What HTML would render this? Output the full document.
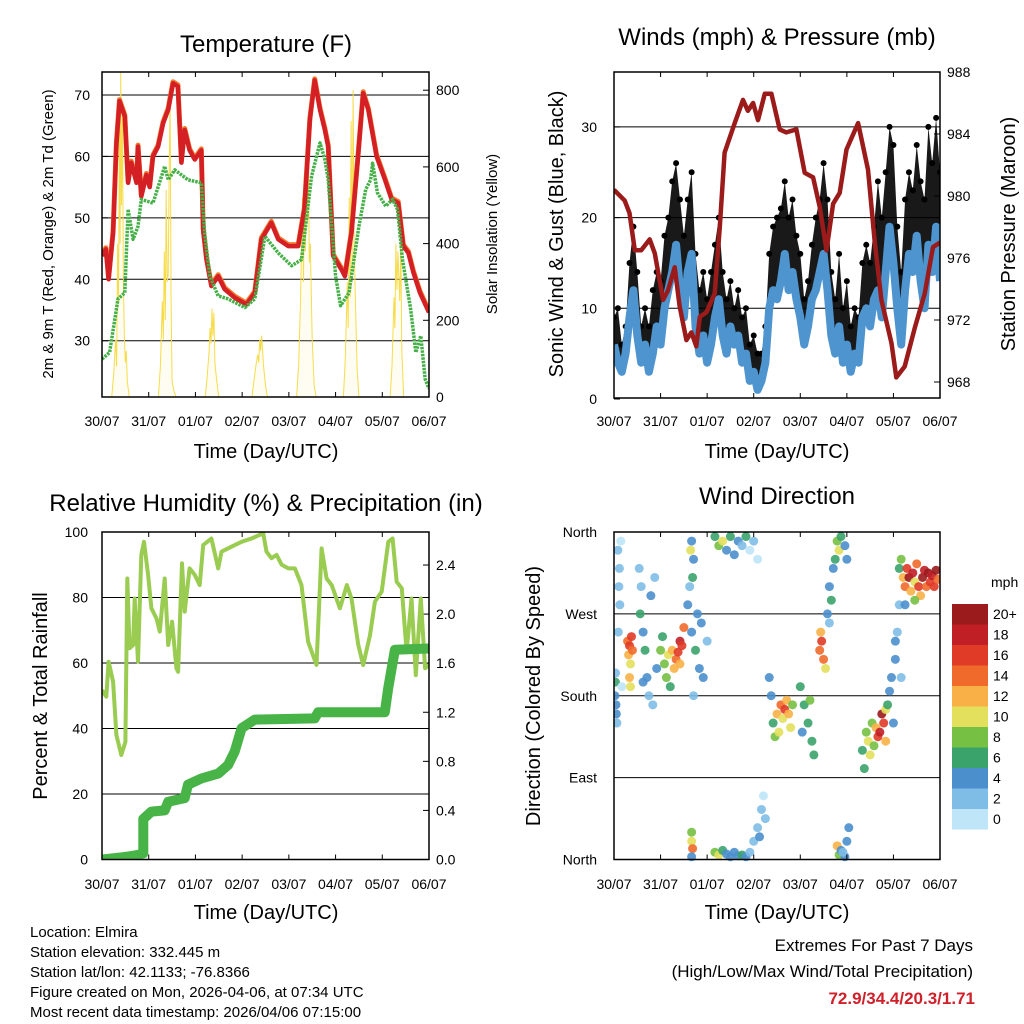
<!DOCTYPE html>
<html><head><meta charset="utf-8">
<style>
html,body{margin:0;padding:0;background:#fff;}
svg{display:block;font-family:"Liberation Sans",sans-serif;}
</style></head>
<body>
<svg id="chart" width="1024" height="1024" viewBox="0 0 1024 1024" xmlns="http://www.w3.org/2000/svg">
<defs>
<clipPath id="c1"><rect x="102" y="72" width="327" height="325"/></clipPath>
<clipPath id="c2"><rect x="614" y="72" width="326" height="326"/></clipPath>
<clipPath id="c3"><rect x="102" y="532" width="327" height="328"/></clipPath>
<clipPath id="c4"><rect x="614" y="528" width="326" height="336"/></clipPath>
</defs>
<g id="root"></g>
<text x="266" y="52" font-size="24" text-anchor="middle">Temperature (F)</text>
<text x="777" y="45" font-size="24" text-anchor="middle">Winds (mph) &amp; Pressure (mb)</text>
<text x="266" y="511" font-size="24" text-anchor="middle">Relative Humidity (%) &amp; Precipitation (in)</text>
<text x="777" y="504" font-size="24" text-anchor="middle">Wind Direction</text>
<text x="266" y="458" font-size="20" text-anchor="middle">Time (Day/UTC)</text>
<text x="777" y="458" font-size="20" text-anchor="middle">Time (Day/UTC)</text>
<text x="266" y="919" font-size="20" text-anchor="middle">Time (Day/UTC)</text>
<text x="777" y="919" font-size="20" text-anchor="middle">Time (Day/UTC)</text>
<text transform="translate(53,234) rotate(-90)" font-size="15" text-anchor="middle">2m &amp; 9m T (Red, Orange) &amp; 2m Td (Green)</text>
<text transform="translate(497,234) rotate(-90)" font-size="15" text-anchor="middle">Solar Insolation (Yellow)</text>
<text transform="translate(563,234) rotate(-90)" font-size="20" text-anchor="middle">Sonic Wind &amp; Gust (Blue, Black)</text>
<text transform="translate(1015,234) rotate(-90)" font-size="20" text-anchor="middle">Station Pressure (Maroon)</text>
<text transform="translate(47,696) rotate(-90)" font-size="20" text-anchor="middle">Percent &amp; Total Rainfall</text>
<text transform="translate(540,696) rotate(-90)" font-size="20" text-anchor="middle">Direction (Colored By Speed)</text>
<g font-size="15">
<text x="30" y="937">Location: Elmira</text>
<text x="30" y="957">Station elevation: 332.445 m</text>
<text x="30" y="977">Station lat/lon: 42.1133; -76.8366</text>
<text x="30" y="997">Figure created on Mon, 2026-04-06, at 07:34 UTC</text>
<text x="30" y="1017">Most recent data timestamp: 2026/04/06 07:15:00</text>
</g>
<g font-size="17" text-anchor="end">
<text x="973" y="951">Extremes For Past 7 Days</text>
<text x="973" y="977">(High/Low/Max Wind/Total Precipitation)</text>
<text x="975" y="1004" fill="#d0202a" font-weight="bold">72.9/34.4/20.3/1.71</text>
</g>
</svg>
<script>
// ---- Data ----
const dayLabels=["30/07","31/07","01/07","02/07","03/07","04/07","05/07","06/07"];
const tempT=[0,2,3.4,5.7,7.4,9,11.7,13.4,15,17.7,18.5,20.2,22.8,24.5,26.2,28.8,31.4,34,36.5,39,40.8,42.5,45,47.7,51,52,53.7,56.2,59.7,63,68.2,74.2,78.5,81.9,87,90.5,95.7,100.8,104,106.8,109.3,112,114.5,116.2,118.8,123,124.8,128.2,131.7,134.2,136.8,141.1,145.4,148.8,152.2,154.8,157.4,160,163.4,168];
const tempV=[43.8,44.9,40,47.6,62,69,66.5,55.7,59,55.7,61.6,53.5,57,55,60,61.6,65.4,67.6,71.9,71.4,59,64.3,61,59.5,61,48,43.2,38.9,40.5,38.4,37,35.9,37.8,46.5,49.2,46.5,45.4,45.4,51.4,66,72.4,67.6,64.3,61.6,43.8,41.6,40.5,47.6,60.5,70.3,67.6,60,56.2,53,52.4,45.4,44.3,41.1,37.8,34.6];
const dewT=[0,3.9,8.2,11.7,13.4,16,18.5,20.2,26.2,32.2,34,37.4,44.2,51,52.7,55.4,59.7,64.8,73.4,78.5,83.7,90.5,97.4,102.5,107.7,112,114.5,116.2,120,122.6,126.9,132,135.5,138,139,141.5,145.8,149.3,151.8,154.4,158.6,161.2,163.8,166,168];
const dewV=[27,28.1,36.8,37.8,51.4,46.5,48.6,53,52.4,58.4,56.2,57.8,56.2,55.7,47.6,40.5,37.3,36.8,35.4,36.8,47,44.3,42.2,43.2,56.8,62.2,59.5,56.2,40.5,35.7,37.8,48.6,54.6,56.2,58.9,54.1,51.9,53,51.4,43.2,35.1,28.1,30.8,23.8,22.2];
const solarT=[0,5,6,7,7.5,8,8.5,9,9.3,9.6,10,10.5,11,11.5,12,12.5,13,14,29,30,31,31.5,32,32.5,33,33.5,34,34.5,35,35.5,36,37,38,53,54,55,55.5,56,56.5,57,57.5,58,59,60,77,78,79,80,80.5,81,81.5,82,83,84,85,100,101,102,103,103.5,104,104.5,105,105.5,106,106.5,107,108,109,110,124,125,126,126.5,127,127.5,128,128.5,129,129.5,130,131,132,148,149,150,150.5,151,151.5,152,153,153.5,154,155,168];
const solarV=[0,0,60,150,80,400,250,700,400,850,500,760,300,150,90,120,40,0,0,80,250,150,380,200,540,300,320,600,780,250,40,15,0,0,50,120,180,140,230,160,220,90,40,0,0,40,80,110,90,150,120,160,80,30,0,0,80,250,520,300,580,380,620,460,680,350,400,150,30,0,0,100,300,180,520,260,720,330,800,400,300,80,0,0,80,260,180,400,280,380,250,400,120,0,0];
const windT=[];for(let i=0;i<=84;i++)windT.push(i*2);
const windV=[6,4,3,5,9,12,7,4,6,3,5,8,6,10,12,14,17,12,9,14,16,8,5,7,4,6,9,11,7,5,8,6,7,4,5,2,3,1,2,4,10,12,11,13,16,12,14,11,9,6,8,11,12,14,16,12,7,5,8,4,6,3,5,4,9,10,8,11,12,9,14,19,15,10,6,12,16,14,18,13,10,17,14,19,13];
const gustV=[9,10,6,8,15,19,14,8,10,8,12,14,13,18,20,24,26,22,18,22,25,16,12,14,11,14,17,20,14,11,13,10,12,9,10,6,7,5,5,8,16,19,20,21,24,20,22,18,16,11,13,17,20,22,26,22,14,11,16,10,13,8,10,9,15,17,15,19,24,20,25,30,28,19,14,22,25,23,28,24,22,30,26,31,25];
const presT=[0,5.5,8,10.7,14,18.4,21,25.3,27.8,31.3,33.8,37.3,39.9,42.4,44.2,47.6,51.9,54.5,57,62.2,66.5,69,71.7,74.2,77.7,81.1,85.4,88.8,94,98.3,102.6,106,109.5,112.9,116.3,119.8,125.8,130.9,134.4,137.8,143,145.5,149.8,155,160.1,164.4,168];
const presV=[980.4,979.7,978.9,976.5,976.5,977.2,976.3,973.3,973.9,975.4,972.9,970.7,971.2,970.3,972.2,972.5,973.7,978,982.8,984.7,986.2,985.5,986,984.9,986.6,986.6,984.3,984.1,984.3,981.5,981.2,979.3,976.5,979.5,980.2,983,984.7,981.7,977,973.3,970.5,968.3,969,971.5,973.7,976.7,977];
const rhT=[0,2.2,3.4,5.7,7.4,9.9,12,13,14.2,16,16.8,18.5,20.2,21.6,23.7,25.4,28,29.7,32.2,34,36,38.2,39.1,41.1,42.5,45,47.7,50.2,52,56.2,59.7,61.4,66.5,71.7,76.8,82.8,84.5,87.1,89.7,92.3,95.7,99.1,102.5,105.9,110.2,112.8,115.4,118,122.2,125.8,128.2,131.7,134.2,137.7,140.2,143.7,147.1,149.3,151.4,154,156.5,159,161.2,163.8,166,168];
const rhV=[51.7,49.7,60.4,54.3,38,31.9,35.9,85.8,64.5,65.5,79.7,60.4,93,97,86.9,76.7,73.6,69.6,85.8,65.5,72.6,58.4,57.3,90.4,75.7,88.9,86.9,83.8,96,98,88.9,94,95.5,97,98,99.6,94,92,93,90,88.9,88.9,83.8,66.5,59.4,95,85.8,83.8,76.7,83.8,79.7,65.5,59.4,68.5,78.7,81.8,97,98,84.8,82.8,63.4,79.7,56.3,79.7,58.4,59.4];
const precT=[0,11.7,17.7,21.2,21.2,21.2,25.4,32.2,34,42.5,44.2,51,59.7,64.8,68.2,71.7,78.5,109.3,111,145.3,147,150.5,168];
const precV=[0,0.02,0.035,0.05,0.23,0.33,0.39,0.40,0.47,0.5,0.61,0.66,0.70,0.77,0.88,1.07,1.14,1.15,1.20,1.20,1.39,1.71,1.72];
const dirT=[0.5,1,0.7,1.2,1.5,0.8,2,2.5,3,2.2,3.5,2.8,4,7,8,7.5,8.5,9,8,9.5,8.5,13,14,13.5,15,16,17,18,20,19,21,22,15,24,26,28,30,32,33,34,35,31,27,29,25,36,34,38,40,42,44,46,48,41,39,43,45,40,41,40.5,39.5,40,40,40.5,40,52,54,56,58,60,62,64,66,68,70,72,74,52,54,56,58,60,62,64,66,68,70,72,74,76,77,78,75,80,81,82,83,84,86,87,88,89,90,91,85,92,96,98,100,102,103,97,101,106,107,108,106.5,109,110,111,112,113,111,114,115,116,117,119,120,115,116,117,119,120,121,118,128,129,130,131,132,133,135,136,137,138,139,134,140,140,141,142,143,144,145,146,147,148,145,147,149,150,151,152,153,154,155,156,157,158,159,160,161,162,163,164,165,166,167,155,150,148];
const dirD=[180,170,195,160,150,205,340,300,280,250,350,320,190,240,235,225,215,245,200,230,190,320,300,270,250,230,200,180,170,290,310,210,195,230,215,225,230,220,228,240,235,210,200,190,245,255,215,280,250,230,210,200,240,180,300,270,260,350,330,310,340,30,20,12,3,355,345,350,340,355,335,350,345,355,340,350,330,8,5,10,6,3,8,4,5,3,8,20,35,55,70,45,25,200,180,150,135,160,170,155,165,175,160,145,140,170,190,170,150,130,115,140,175,230,240,220,250,210,270,300,285,320,260,330,350,340,355,345,330,15,5,10,3,20,35,8,120,100,140,130,115,150,145,135,140,160,150,125,165,130,170,185,200,150,220,250,280,200,240,320,310,300,320,310,295,315,305,325,300,290,310,318,300,315,305,312,300,318,308,285,280,330];
const dirS=[5,4,6,4,3,3,2,2,2,3,1,2,1,14,16,12,10,16,12,14,10,3,2,6,4,6,4,3,2,4,3,5,4,8,8,10,12,14,16,18,16,12,8,6,6,14,12,4,4,6,4,4,3,3,2,5,4,4,4,6,10,8,10,14,4,6,8,10,4,6,4,4,3,6,1,2,1,8,10,6,4,4,4,4,6,4,3,2,2,2,1,2,4,4,4,6,8,12,14,10,16,12,12,10,10,8,6,6,6,6,6,4,8,14,16,14,12,10,4,4,6,4,2,6,8,10,6,4,4,12,8,4,4,4,4,2,6,6,8,10,10,8,12,16,18,20,16,8,10,12,6,4,4,4,4,3,2,2,4,6,12,14,16,20,12,18,10,14,16,12,20,18,14,20,16,18,16,20,14,8,4,8];
const legendLabels=["0","2","4","6","8","10","12","14","16","18","20+"];
const legendColors=["#bfe6f8","#7fbde6","#4b8fcd","#3aa36b","#76c043","#e3e05d","#f9b147","#f06a2b","#e03b27","#c01f26","#9b1a1c"];

// ---- Scales ----
const NS="http://www.w3.org/2000/svg";
const root=document.getElementById('root');
function el(tag,attrs,parent){const e=document.createElementNS(NS,tag);for(const k in attrs)e.setAttribute(k,attrs[k]);(parent||root).appendChild(e);return e;}
const xL=h=>102+h*(327/168);
const xR=h=>614+h*(326/168);
const yTemp=v=>95+(70-v)*6.1425;
const ySol=v=>397-v*0.3835;
const yWind=v=>399-v*9.07;
const yPres=p=>382-(p-968)*15.5;
const yRH=v=>859.5-v*3.275;
const yPrec=v=>859.5-v*122.7;
const yDir=d=>859.5-d*(327.5/360);
function pts(T,V,fx,fy){return T.map((t,i)=>fx(t).toFixed(1)+","+fy(V[i]).toFixed(1)).join(" ");}
function colorFor(s){let i=Math.min(10,Math.max(0,Math.floor(s/2)));return legendColors[i];}

// ---- Frames, grids, ticks ----
function frame(x0,x1,y0,y1,name){
  const r=el('rect',{x:x0,y:y0,width:x1-x0,height:y1-y0,fill:'none',stroke:'#000','stroke-width':1.5});
  
  
  for(let d=0;d<8;d++){const x=x0+d*(x1-x0)/7;
    el('line',{x1:x,x2:x,y1:y0,y2:y0+5,stroke:'#000'});
    el('line',{x1:x,x2:x,y1:y1,y2:y1-5,stroke:'#000'});}
}
function dayTicks(x0,x1,y,name){
  dayLabels.forEach((lab,d)=>{const t=el('text',{x:x0+d*(x1-x0)/7,y:y,'font-size':14,'text-anchor':'middle'});t.textContent=lab;
    
    });
}
function hgrid(x0,x1,y){el('line',{x1:x0,x2:x1,y1:y,y2:y,stroke:'#000','stroke-width':1});}
function ylab(x,y,txt,anchor,name){const t=el('text',{x:x,y:y+5,'font-size':14,'text-anchor':anchor});t.textContent=txt;
  
  
  return t;}

// Panel 1: temperature
[30,40,50,60,70].forEach(v=>{hgrid(102,429,yTemp(v));ylab(90,yTemp(v),String(v),'end','temp-y-tick-label');el('line',{x1:102,x2:108,y1:yTemp(v),y2:yTemp(v),stroke:'#000'});});
[0,200,400,600,800].forEach(v=>{ylab(436,ySol(v),String(v),'start','solar-y-tick-label');el('line',{x1:423,x2:429,y1:ySol(v),y2:ySol(v),stroke:'#000'});});
const g1=el('g',{'clip-path':'url(#c1)'});
const solar=el('polyline',{points:pts(solarT,solarV,xL,ySol),fill:'#fdf0a8','fill-opacity':0.15,stroke:'#f7dc4a','stroke-width':1},g1);


const t9=el('polyline',{points:pts(tempT,tempV,xL,yTemp),fill:'none',stroke:'#f47a30','stroke-width':5,'stroke-linejoin':'round',transform:'translate(0,-1.5)'},g1);


const t2=el('polyline',{points:pts(tempT,tempV,xL,yTemp),fill:'none',stroke:'#d42025','stroke-width':4.5,'stroke-linejoin':'round'},g1);


const td=el('polyline',{points:pts(dewT,dewV,xL,yTemp),fill:'none',stroke:'#46b048','stroke-width':3.5,'stroke-dasharray':'2.5 1','stroke-linejoin':'round'},g1);


frame(102,429,72,397,'temperature-plot-frame');
dayTicks(102,429,426,'temp-x');

// Panel 2: winds
[10,20,30].forEach(v=>hgrid(614,940,yWind(v)));
[0,10,20,30].forEach(v=>{ylab(597,yWind(v),String(v),'end','wind-y-tick-label');el('line',{x1:614,x2:620,y1:yWind(v),y2:yWind(v),stroke:'#000'});});
[968,972,976,980,984,988].forEach(v=>{ylab(947,yPres(v),String(v),'start','pressure-y-tick-label');el('line',{x1:934,x2:940,y1:yPres(v),y2:yPres(v),stroke:'#000'});});
const g2=el('g',{'clip-path':'url(#c2)'});
const band=el('polygon',{points:pts(windT,gustV,xR,yWind)+" "+pts(windT.slice().reverse(),windV.slice().reverse(),xR,yWind),fill:'#000','fill-opacity':0.9},g2);


windT.forEach((t,i)=>{const c=el('circle',{cx:xR(t),cy:yWind(gustV[i]),r:3,fill:'#000'},g2);
  
  });
const wl=el('polyline',{points:pts(windT,windV,xR,yWind),fill:'none',stroke:'#4e95d0','stroke-width':8,'stroke-linejoin':'round'},g2);


const pl=el('polyline',{points:pts(presT,presV,xR,yPres),fill:'none',stroke:'#9b1b1b','stroke-width':4.5,'stroke-linejoin':'round'},g2);


frame(614,940,72,398,'winds-plot-frame');
dayTicks(614,940,426,'wind-x');

// Panel 3: RH & precip
[20,40,60,80].forEach(v=>hgrid(102,429,yRH(v)));
[0,20,40,60,80,100].forEach(v=>{ylab(88,yRH(v),String(v),'end','rh-y-tick-label');el('line',{x1:102,x2:108,y1:yRH(v),y2:yRH(v),stroke:'#000'});});
[0,0.4,0.8,1.2,1.6,2.0,2.4].forEach(v=>{ylab(436,yPrec(v),v.toFixed(1),'start','precip-y-tick-label');el('line',{x1:423,x2:429,y1:yPrec(v),y2:yPrec(v),stroke:'#000'});});
const g3=el('g',{'clip-path':'url(#c3)'});
const rh=el('polyline',{points:pts(rhT,rhV,xL,yRH),fill:'none',stroke:'#99cc50','stroke-width':4,'stroke-linejoin':'round'},g3);


const pr=el('polyline',{points:pts(precT,precV,xL,yPrec),fill:'none',stroke:'#48b448','stroke-width':10,'stroke-linejoin':'round','stroke-linecap':'round'},g3);


frame(102,429,532,859.5,'humidity-plot-frame');
dayTicks(102,429,889,'rh-x');

// Panel 4: wind direction
[90,180,270].forEach(v=>hgrid(614,940,yDir(v)));
hgrid(614,940,yDir(360));
[["North",0],["East",90],["South",180],["West",270],["North",360]].forEach(a=>{ylab(597,yDir(a[1]),a[0],'end','direction-y-tick-label');});
const g4=el('g',{'clip-path':'url(#c4)'});
dirT.forEach((t,i)=>{const c=el('circle',{cx:xR(t),cy:yDir(dirD[i]),r:4.5,fill:colorFor(dirS[i]),'fill-opacity':0.9},g4);
  
  });
frame(614,940,532,859.5,'direction-plot-frame');
dayTicks(614,940,889,'dir-x');

// Legend
const lt=el('text',{x:991,y:587,'font-size':14}); lt.textContent="mph";


legendColors.forEach((c,i)=>{const y=809-i*20.5;
  const r=el('rect',{x:952,y:y,width:36,height:20.5,fill:c});
  
  
  const t=el('text',{x:993,y:y+15,'font-size':14}); t.textContent=legendLabels[i];
  
  });
</script>
</body></html>
